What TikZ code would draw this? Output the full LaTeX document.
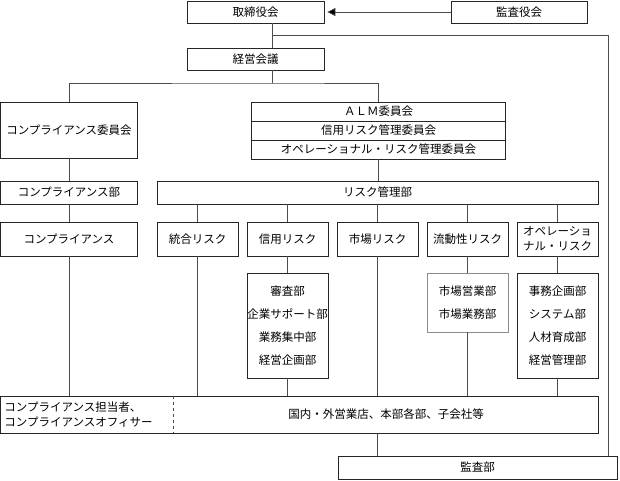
\documentclass[tikz,border=0pt]{standalone}
\usepackage{fontspec}
\setmainfont{Noto Sans CJK JP}
\usetikzlibrary{arrows.meta}

\tikzset{
    box/.style={draw=black!85,line width=0.7pt,inner sep=0pt,align=center,font=\fontsize{11.5}{14}\selectfont},
    listbox/.style={box,font=\fontsize{11.5}{23}\selectfont},
    link/.style={draw=black!70,line width=0.7pt},
}

\begin{document}
\begin{tikzpicture}[x=1pt,y=-1pt]
    \useasboundingbox (0,0) rectangle (620,480);

    \node[box,minimum width=137,minimum height=22] (board) at (255.5,12) {取締役会};
    \node[box,minimum width=136,minimum height=22] (auditboard) at (519,12) {監査役会};
    \node[box,minimum width=137,minimum height=22] (mgmt) at (255.5,59) {経営会議};

    \node[box,minimum width=137,minimum height=56] (cc) at (69,130) {コンプライアンス委員会};
    \node[box,minimum width=254,minimum height=19] (alm1) at (378.5,111.5) {ＡＬＭ委員会};
    \node[box,minimum width=254,minimum height=19] (alm2) at (378.5,130.5) {信用リスク管理委員会};
    \node[box,minimum width=254,minimum height=19] (alm3) at (378.5,149.5) {オペレーショナル・リスク管理委員会};

    \node[box,minimum width=137,minimum height=23] (cdept) at (69,192.5) {コンプライアンス部};
    \node[box,minimum width=441,minimum height=23] (rm) at (377.5,192.5) {リスク管理部};

    \node[box,minimum width=137,minimum height=34] (crow) at (69,239) {コンプライアンス};
    \node[box,minimum width=81,minimum height=34] (r1) at (197.5,239) {統合リスク};
    \node[box,minimum width=81,minimum height=34] (r2) at (287.5,239) {信用リスク};
    \node[box,minimum width=81,minimum height=34] (r3) at (377.5,239) {市場リスク};
    \node[box,minimum width=81,minimum height=34] (r4) at (467.5,239) {流動性リスク};
    \node[box,minimum width=81,minimum height=34,font=\fontsize{11.5}{15}\selectfont] (r5) at (557.5,239) {オペレーショ\\ナル・リスク};

    \node[listbox,minimum width=81,minimum height=105] (d2) at (287.5,325.5) {審査部\\企業サポート部\\業務集中部\\経営企画部};
    \node[listbox,minimum width=81,minimum height=59,draw=black!45] (d4) at (467.5,302.5) {市場営業部\\市場業務部};
    \node[listbox,minimum width=81,minimum height=105] (d5) at (557.5,325.5) {事務企画部\\システム部\\人材育成部\\経営管理部};

    \node[box,minimum width=597.5,minimum height=37] (wide) at (299.25,414.5) {};
    \node[box,draw=none,anchor=west,align=left,font=\fontsize{11.5}{15}\selectfont] (staff) at (4,414.5) {コンプライアンス担当者、\\コンプライアンスオフィサー};
    \node[box,draw=none] (branches) at (386,414.5) {国内・外営業店、本部各部、子会社等};
    \node[box,minimum width=279,minimum height=23] (audit) at (477.5,467.5) {監査部};

    \coordinate (sep) at (173,0);
    \draw[black!70,dashed,line width=0.6pt] (wide.north -| sep) -- (wide.south -| sep);

    % top
    \draw[link,-{Triangle[length=8pt,width=8pt,fill=black]}] (auditboard) -- ([xshift=3pt]board.east);
    \coordinate (t1) at (272,35);
    \coordinate (t2) at (608,35);
    \coordinate (j1) at (272,83);
    \draw[link] (board.south -| t1) -- (mgmt.north -| t1);
    \draw[link] (t1) -- (t2) -- (audit.north -| t2);
    \draw[link] (mgmt.south -| j1) -- (j1);
    \draw[link] (cc.north) |- (j1) -| (alm1.north);

    % compliance column
    \draw[link] (cc) -- (cdept);
    \draw[link] (cdept) -- (crow);
    \draw[link] (crow) -- (crow |- wide.north);

    % risk columns
    \draw[link] (alm3) -- (alm3 |- rm.north);
    \foreach \n in {r1,r2,r3,r4,r5}
        \draw[link] (rm.south -| \n) -- (\n);
    \draw[link] (r1) -- (r1 |- wide.north);
    \draw[link] (r3) -- (r3 |- wide.north);
    \draw[link] (r2) -- (d2);
    \draw[link] (r4) -- (d4);
    \draw[link] (r5) -- (d5);
    \foreach \n in {d2,d4,d5}
        \draw[link] (\n) -- (\n |- wide.north);

    \draw[link] (wide.south -| r3) -- (audit.north -| r3);
\end{tikzpicture}
\end{document}
